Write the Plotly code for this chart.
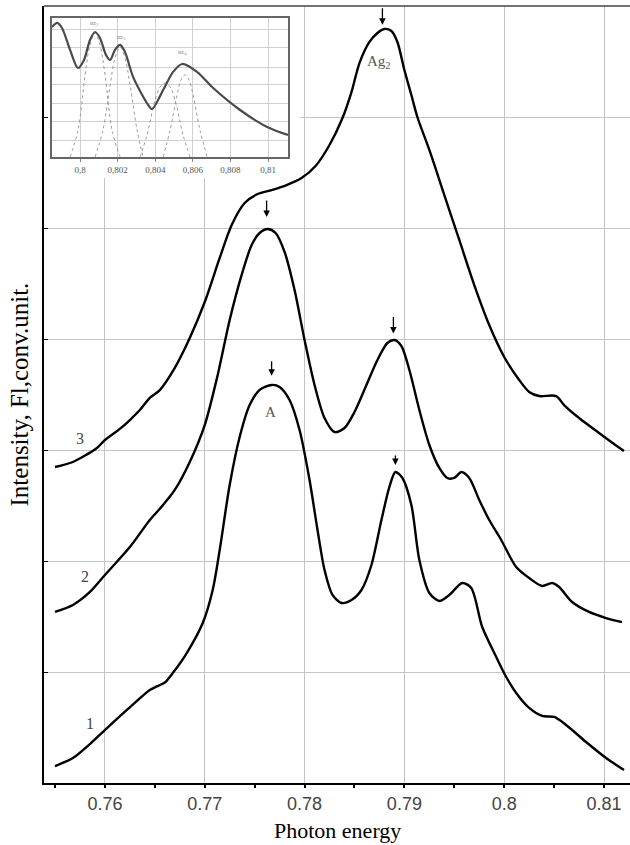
import plotly.graph_objects as go

# ---------------- main spectra ----------------
x1 = [0.7550, 0.7568, 0.7585, 0.7600, 0.7622, 0.7645, 0.7652, 0.7660, 0.7668, 0.7682, 0.7698, 0.7708,
      0.7715, 0.7725, 0.7735, 0.7745, 0.7755, 0.7767, 0.7775, 0.7785, 0.7795, 0.7805, 0.7813, 0.7820,
      0.7828, 0.7837, 0.7847, 0.7857, 0.7867, 0.7877, 0.7885, 0.7891, 0.7898, 0.7907, 0.7915, 0.7925,
      0.7935, 0.7945, 0.7958, 0.7967, 0.7978, 0.7992, 0.8002, 0.8012, 0.8025, 0.8038, 0.8050, 0.8062,
      0.8082, 0.8102, 0.8120]
y1 = [0.153, 0.225, 0.351, 0.477, 0.658, 0.838, 0.870, 0.905, 0.991, 1.171, 1.441, 1.739,
      2.099, 2.685, 3.117, 3.405, 3.541, 3.586, 3.568, 3.450, 3.180, 2.730, 2.279, 1.919,
      1.694, 1.622, 1.649, 1.739, 1.964, 2.369, 2.667, 2.802, 2.748, 2.505, 2.009, 1.712,
      1.640, 1.694, 1.802, 1.757, 1.405, 1.135, 0.955, 0.811, 0.676, 0.604, 0.595, 0.523,
      0.369, 0.225, 0.117]

x2 = [0.7550, 0.7568, 0.7585, 0.7600, 0.7625, 0.7645, 0.7655, 0.7670, 0.7685, 0.7700, 0.7713, 0.7725,
      0.7737, 0.7747, 0.7755, 0.7763, 0.7771, 0.7780, 0.7790, 0.7800, 0.7810, 0.7820, 0.7830, 0.7840,
      0.7850, 0.7862, 0.7873, 0.7883, 0.7890, 0.7897, 0.7905, 0.7915, 0.7925, 0.7935, 0.7943, 0.7950,
      0.7957, 0.7965, 0.7975, 0.7985, 0.7997, 0.8012, 0.8025, 0.8038, 0.8048, 0.8055, 0.8068, 0.8085,
      0.8102, 0.8118]
y2 = [1.541, 1.604, 1.721, 1.874, 2.126, 2.370, 2.470, 2.640, 2.892, 3.225, 3.676, 4.171,
      4.577, 4.847, 4.955, 4.991, 4.955, 4.784, 4.441, 3.991, 3.586, 3.288, 3.162, 3.198,
      3.342, 3.586, 3.811, 3.964, 3.991, 3.937, 3.721, 3.360, 3.045, 2.838, 2.748, 2.748,
      2.802, 2.748, 2.550, 2.369, 2.189, 1.946, 1.847, 1.775, 1.802, 1.766, 1.631, 1.541,
      1.486, 1.450]

x3 = [0.7550, 0.7568, 0.7592, 0.7600, 0.7615, 0.7625, 0.7635, 0.7645, 0.7655, 0.7670, 0.7685, 0.7700,
      0.7715, 0.7727, 0.7740, 0.7753, 0.7767, 0.7782, 0.7797, 0.7811, 0.7825, 0.7838, 0.7847, 0.7855,
      0.7865, 0.7873, 0.7880, 0.7887, 0.7893, 0.7900, 0.7907, 0.7913, 0.7925, 0.7940, 0.7955, 0.7970,
      0.7985, 0.8000, 0.8015, 0.8025, 0.8035, 0.8052, 0.8060, 0.8075, 0.8095, 0.8110, 0.8120]
y3 = [2.847, 2.892, 3.018, 3.090, 3.190, 3.270, 3.360, 3.470, 3.540, 3.740, 4.009, 4.333,
      4.730, 5.027, 5.225, 5.306, 5.342, 5.387, 5.450, 5.559, 5.748, 5.991, 6.225, 6.486,
      6.676, 6.757, 6.793, 6.775, 6.676, 6.423, 6.198, 6.000, 5.703, 5.297, 4.892, 4.486,
      4.126, 3.838, 3.631, 3.523, 3.486, 3.486, 3.405, 3.288, 3.153, 3.054, 2.991]

x_ticks = [0.76, 0.77, 0.78, 0.79, 0.80, 0.81]
x_ticktext = ["0.76", "0.77", "0.78", "0.79", "0.8", "0.81"]

# peak arrows (x, y of arrow tip, arrow length px)
arrow_x = [0.7878, 0.7762, 0.7889, 0.7767, 0.7891]
arrow_y = [6.83, 5.10, 4.05, 3.67, 2.865]
arrow_len = [18, 18, 18, 16, 11]

curve_labels = ["1", "2", "3"]
curve_label_x = [0.7585, 0.7580, 0.7575]
curve_label_y = [0.54, 1.86, 3.10]

# ---------------- inset ----------------
ix = [0.79851, 0.79878, 0.79904, 0.79947, 0.79989, 0.80021, 0.80053, 0.80080, 0.80106, 0.80138,
      0.80160, 0.80186, 0.80213, 0.80239, 0.80282, 0.80356, 0.80383, 0.80442, 0.80495, 0.80543,
      0.80622, 0.80708, 0.80851, 0.80995, 0.81106]
iy = [0.935, 0.964, 0.928, 0.770, 0.640, 0.698, 0.842, 0.899, 0.856, 0.734,
      0.698, 0.770, 0.806, 0.755, 0.576, 0.388, 0.345, 0.482, 0.612, 0.669,
      0.612, 0.496, 0.338, 0.216, 0.158]

g1x = [0.79947, 0.79989, 0.80027, 0.80053, 0.80080, 0.80106, 0.80133, 0.80170, 0.80213]
g1y = [0.0, 0.194, 0.590, 0.806, 0.892, 0.806, 0.590, 0.194, 0.0]
g2x = [0.80080, 0.80122, 0.80160, 0.80186, 0.80213, 0.80239, 0.80266, 0.80303, 0.80335]
g2y = [0.0, 0.194, 0.518, 0.712, 0.791, 0.712, 0.518, 0.194, 0.0]
g3x = [0.80319, 0.80356, 0.80399, 0.80426, 0.80452, 0.80479, 0.80505, 0.80548, 0.80585]
g3y = [0.0, 0.158, 0.410, 0.504, 0.532, 0.504, 0.410, 0.158, 0.0]
g4x = [0.80442, 0.80479, 0.80516, 0.80537, 0.80559, 0.80580, 0.80601, 0.80638, 0.80676]
g4y = [0.0, 0.194, 0.446, 0.554, 0.590, 0.554, 0.446, 0.194, 0.0]

inset_ticks = [0.800, 0.802, 0.804, 0.806, 0.808, 0.810]
inset_ticktext = ["0,8", "0,802", "0,804", "0,806", "0,808", "0,81"]
inset_grid_y = [0.122, 0.252, 0.388, 0.518, 0.647, 0.784, 0.914]

inset_lab = ["BE<sub>1</sub>", "BE<sub>2</sub>", "BE<sub>3</sub>", "BE<sub>4</sub>"]
inset_lab_x = [0.79883, 0.80074, 0.80218, 0.80543]
inset_lab_y = [1.036, 0.957, 0.856, 0.748]

fig = go.Figure()
for xs, ys in [(x1, y1), (x2, y2), (x3, y3)]:
    fig.add_trace(go.Scatter(x=xs, y=ys, mode="lines",
                             line=dict(color="black", width=2.4, shape="spline", smoothing=0.8),
                             showlegend=False, hoverinfo="skip"))

for gx, gy in [(g1x, g1y), (g2x, g2y), (g3x, g3y), (g4x, g4y)]:
    fig.add_trace(go.Scatter(x=gx, y=gy, xaxis="x2", yaxis="y2", mode="lines",
                             line=dict(color="#999999", width=1, dash="dot", shape="spline"),
                             showlegend=False, hoverinfo="skip"))
fig.add_trace(go.Scatter(x=ix, y=iy, xaxis="x2", yaxis="y2", mode="lines",
                         line=dict(color="#4a4a4a", width=2.2, shape="spline", smoothing=0.8),
                         showlegend=False, hoverinfo="skip"))

annotations = []
for ax_, ay_, l in zip(arrow_x, arrow_y, arrow_len):
    annotations.append(dict(x=ax_, y=ay_, xref="x", yref="y", text="", showarrow=True,
                            ax=0, ay=-l, arrowhead=2, arrowsize=1, arrowwidth=1.3,
                            arrowcolor="black"))
annotations.append(dict(x=0.7766, y=3.34, xref="x", yref="y", text="A", showarrow=False,
                        font=dict(family="Liberation Serif", size=15, color="#555555")))
annotations.append(dict(x=0.7875, y=6.50, xref="x", yref="y", text="Ag<sub>2</sub>", showarrow=False,
                        font=dict(family="Liberation Serif", size=15, color="#555555")))
for t, cx, cy in zip(curve_labels, curve_label_x, curve_label_y):
    annotations.append(dict(x=cx, y=cy, xref="x", yref="y", text=t, showarrow=False,
                            font=dict(family="Liberation Serif", size=16, color="#444444")))
for t, cx, cy in zip(inset_lab, inset_lab_x, inset_lab_y):
    annotations.append(dict(x=cx, y=cy, xref="x2", yref="y2", text=t, showarrow=False,
                            font=dict(family="Liberation Serif", size=5, color="#777777")))
annotations.append(dict(x=-0.041, y=0.5, xref="paper", yref="paper", text="Intensity, Fl,conv.unit.",
                        textangle=-90, showarrow=False, xanchor="center", yanchor="middle",
                        font=dict(family="Liberation Serif", size=25, color="black")))
annotations.append(dict(x=0.5, y=-0.0605, xref="paper", yref="paper", text="Photon energy",
                        showarrow=False, xanchor="center", yanchor="middle",
                        font=dict(family="Liberation Serif", size=22, color="black")))

shapes = [
    # white area behind the inset, above main grid
    dict(type="rect", xref="x", yref="y", x0=0.7539, x1=0.7795, y0=5.45, y1=7.0,
         fillcolor="white", line=dict(width=0), layer="between"),
    # top frame line
    dict(type="line", xref="paper", yref="paper", x0=0, x1=1, y0=1, y1=1,
         line=dict(color="#444444", width=1.5)),
]

fig.update_layout(
    width=630, height=845,
    margin=dict(l=44, r=0, t=6, b=62),
    paper_bgcolor="white", plot_bgcolor="white",
    annotations=annotations, shapes=shapes,
    xaxis=dict(range=[0.7539, 0.8126], tickvals=x_ticks, ticktext=x_ticktext,
               showgrid=True, gridcolor="#c4c4c4", gridwidth=1.2,
               showline=True, linecolor="black", linewidth=2,
               ticks="outside", ticklen=3, tickcolor="black", tickwidth=1.5,
               minor=dict(dtick=0.005, tick0=0.755, ticks="outside", ticklen=3,
                          tickcolor="black", tickwidth=1.5, showgrid=False),
               tickfont=dict(family="Liberation Sans", size=18, color="#444444"),
               zeroline=False),
    yaxis=dict(range=[0, 7], dtick=1, showgrid=True, gridcolor="#c4c4c4", gridwidth=1.2,
               showline=True, linecolor="black", linewidth=2,
               ticks="inside", ticklen=4, tickcolor="black",
               showticklabels=False, zeroline=False),
    xaxis2=dict(domain=[0.0137, 0.4164], anchor="y2", range=[0.79851, 0.81106],
                tickvals=inset_ticks, ticktext=inset_ticktext,
                showgrid=True, gridcolor="#d0d0d0", gridwidth=1,
                showline=True, mirror=True, linecolor="#666666", linewidth=1.5,
                ticks="outside", ticklen=3, tickcolor="#888888",
                tickfont=dict(family="Liberation Serif", size=9, color="#555555"),
                zeroline=False),
    yaxis2=dict(domain=[0.8057, 0.9846], anchor="x2", range=[0, 1],
                tickvals=inset_grid_y, showticklabels=False,
                showgrid=True, gridcolor="#d0d0d0", gridwidth=1,
                showline=True, mirror=True, linecolor="#666666", linewidth=1.5,
                zeroline=False),
)

fig.write_html("out.html")
